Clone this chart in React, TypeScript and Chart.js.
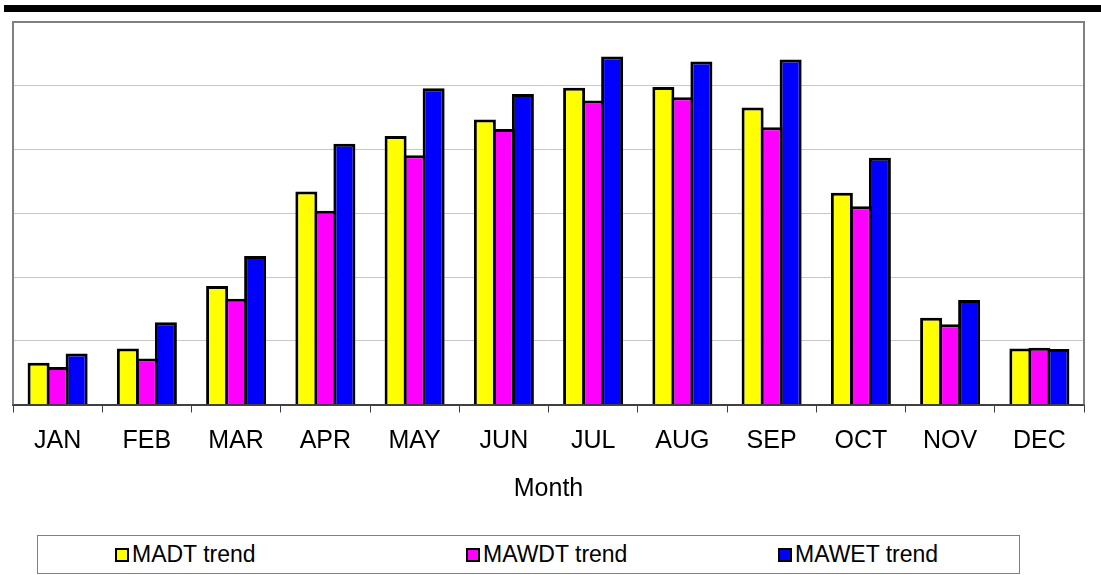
import React, { useEffect, useRef } from "react";
import { Chart, registerables } from "chart.js";

Chart.register(...registerables);

const months = ["JAN", "FEB", "MAR", "APR", "MAY", "JUN", "JUL", "AUG", "SEP", "OCT", "NOV", "DEC"];
const madtTrend = [0.655, 0.88, 1.86, 3.34, 4.21, 4.47, 4.97, 4.98, 4.66, 3.32, 1.36, 0.88];
const mawdtTrend = [0.59, 0.72, 1.66, 3.04, 3.91, 4.32, 4.77, 4.82, 4.35, 3.11, 1.26, 0.89];
const mawetTrend = [0.8, 1.29, 2.33, 4.09, 4.96, 4.87, 5.46, 5.38, 5.41, 3.87, 1.64, 0.87];
const seriesNames = ["MADT trend", "MAWDT trend", "MAWET trend"];
const seriesColors = ["#FFFF00", "#FF00FF", "#0000FF"];
const yMin = 0;
const yMax = 6;
const yStep = 1;
const xTitle = "Month";

const FONT = "'Liberation Sans', Arial, sans-serif";

const framePlugin = {
  id: "plotFrame",
  beforeDatasetsDraw(chart: any) {
    const { ctx, chartArea: a } = chart;
    ctx.save();
    ctx.strokeStyle = "#808080";
    ctx.lineWidth = 2;
    ctx.beginPath();
    ctx.moveTo(a.left, a.bottom);
    ctx.lineTo(a.left, a.top);
    ctx.lineTo(a.right, a.top);
    ctx.lineTo(a.right, a.bottom);
    ctx.stroke();
    ctx.restore();
  },
};

export default function App() {
  const canvasRef = useRef<HTMLCanvasElement | null>(null);

  useEffect(() => {
    if (!canvasRef.current) return;
    const series = [madtTrend, mawdtTrend, mawetTrend];
    const chart = new Chart(canvasRef.current, {
      type: "bar",
      data: {
        labels: months,
        datasets: series.map((d, i) => ({
          label: seriesNames[i],
          data: d,
          backgroundColor: seriesColors[i],
          borderColor: "#000000",
          borderWidth: 3,
          borderSkipped: "bottom",
          categoryPercentage: 0.639,
          barPercentage: 1.158,
        })),
      },
      options: {
        responsive: false,
        animation: false,
        layout: { padding: { left: 13, top: 22, right: 17, bottom: 0 } },
        plugins: {
          legend: { display: false },
          tooltip: { enabled: false },
        },
        scales: {
          x: {
            offset: true,
            grid: {
              offset: true,
              drawOnChartArea: false,
              drawTicks: true,
              tickLength: 8,
              color: "#404040",
              lineWidth: 1,
            },
            border: { display: true, color: "#404040", width: 2 },
            ticks: { font: { family: FONT, size: 25 }, color: "#000", padding: 13.5, maxRotation: 0 },
            title: {
              display: true,
              text: xTitle,
              font: { family: FONT, size: 25 },
              color: "#000",
              padding: { top: 4.5, bottom: 0 },
            },
          },
          y: {
            min: yMin,
            max: yMax,
            ticks: { display: false, stepSize: yStep },
            grid: { color: "#c8c8c8", lineWidth: 1, drawTicks: false },
            border: { display: false },
          },
        },
      },
      plugins: [framePlugin],
    });
    return () => chart.destroy();
  }, []);

  const legendLefts = [77, 428, 740];

  return (
    <div style={{ position: "fixed", left: 0, top: 0, width: 1101, height: 575, background: "#fff", overflow: "hidden" }}>
      <div style={{ position: "absolute", left: 4, top: 5, right: 0, height: 7, background: "#000" }} />
      <canvas ref={canvasRef} width={1101} height={504} style={{ position: "absolute", left: 0, top: 0, display: "block" }} />
      <div
        style={{
          position: "absolute",
          left: 37,
          top: 535,
          width: 983,
          height: 39,
          border: "1px solid #808080",
          boxSizing: "border-box",
          fontFamily: FONT,
          fontSize: 23,
          color: "#000",
        }}
      >
        {seriesNames.map((name, i) => (
          <div
            key={name}
            style={{
              position: "absolute",
              left: legendLefts[i],
              top: 0,
              height: "100%",
              display: "flex",
              alignItems: "center",
              whiteSpace: "nowrap",
            }}
          >
            <span
              style={{
                display: "inline-block",
                width: 14,
                height: 14,
                boxSizing: "border-box",
                border: "2px solid #000",
                background: seriesColors[i],
                marginRight: 3,
              }}
            />
            <span>{name}</span>
          </div>
        ))}
      </div>
    </div>
  );
}
